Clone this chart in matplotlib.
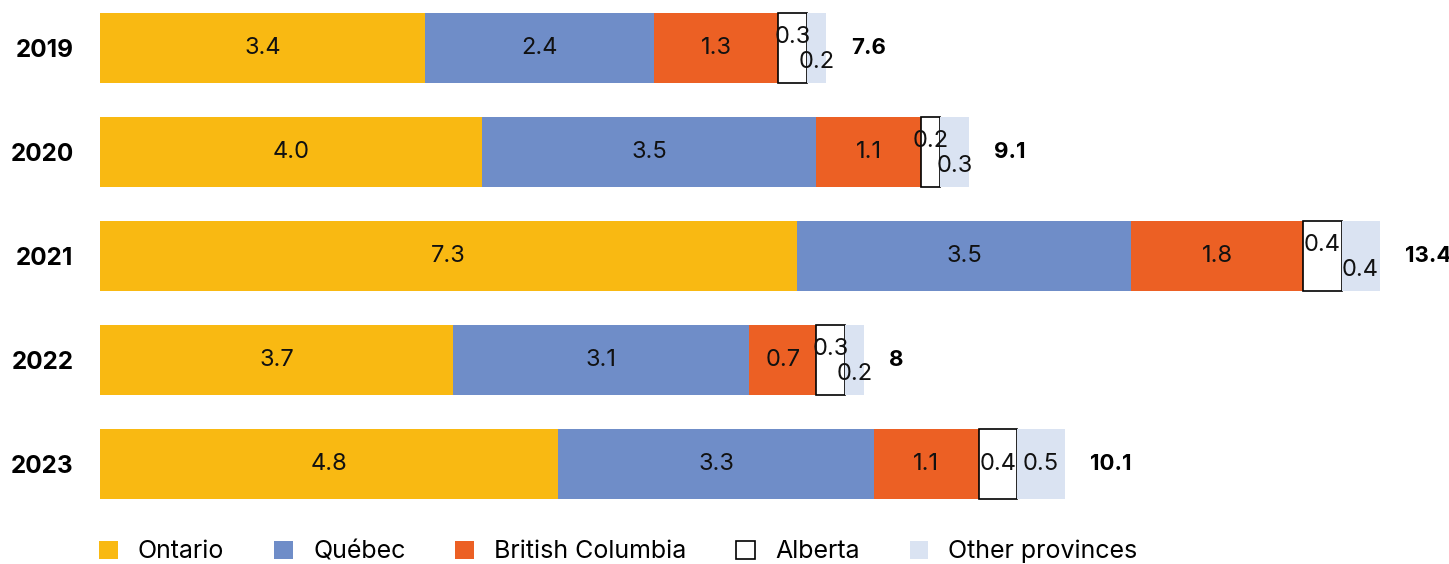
import matplotlib.pyplot as plt
import numpy as np

# data (billions)
years = ['2019', '2020', '2021', '2022', '2023']
ontario = [3.4, 4.0, 7.3, 3.7, 4.8]
quebec = [2.4, 3.5, 3.5, 3.1, 3.3]
bc = [1.3, 1.1, 1.8, 0.7, 1.1]
alberta = [0.3, 0.2, 0.4, 0.3, 0.4]
other = [0.2, 0.3, 0.4, 0.2, 0.5]
totals = [7.6, 9.1, 13.4, 8, 10.1]

names = ['Ontario', 'Québec', 'British Columbia', 'Alberta', 'Other provinces']
colors = ['#F9B912', '#6F8DC8', '#EC6024', 'white', '#DAE3F2']
# small segments at the end get their labels staggered up / down
stagger = [True, True, True, True, False]

plt.rcParams['font.family'] = ['Inter', 'DejaVu Sans']

fig = plt.figure(figsize=(14.49, 5.64), dpi=100)
ax = fig.add_axes([100 / 1449, 52 / 564, 1349 / 1449, 512 / 564])

y = np.arange(len(years))
left = np.zeros(len(years))
series = [ontario, quebec, bc, alberta, other]
for k, vals in enumerate(series):
    vals = np.array(vals)
    edge = 'black' if names[k] == 'Alberta' else 'none'
    ax.barh(y, vals, left=left, height=0.673, color=colors[k],
            edgecolor=edge, linewidth=1.2, label=names[k])
    for i, v in enumerate(vals):
        xc = left[i] + v / 2
        dy = 0
        if stagger[i] and k == 3:
            dy = 8
        elif stagger[i] and k == 4:
            dy = -10
        ax.annotate(f'{v:.1f}', (xc, y[i]), xytext=(0, dy), textcoords='offset points',
                    ha='center', va='center', fontsize=17, fontweight='normal',
                    color='#111111')
    left += vals

for i, t in enumerate(totals):
    ax.annotate(f'{t:g}', (left[i], y[i]), xytext=(18, 0), textcoords='offset points',
                ha='left', va='center', fontsize=16, fontweight='bold', color='black')

ax.set_xlim(0, 1349 / 95.5)
ax.set_ylim(4.4615, -0.4615)
ax.set_yticks(y)
ax.set_yticklabels(years, fontsize=17.5, fontweight='bold')
ax.tick_params(axis='y', length=0, pad=19)
ax.set_xticks([])
for s in ax.spines.values():
    s.set_visible(False)

ax.legend(loc='upper left', bbox_to_anchor=(-0.008, -0.035), ncol=5, frameon=False,
          fontsize=18, handlelength=0.75, handleheight=0.75, handletextpad=0.8,
          columnspacing=2.0, borderaxespad=0)

fig.savefig('out.png', dpi=100)
